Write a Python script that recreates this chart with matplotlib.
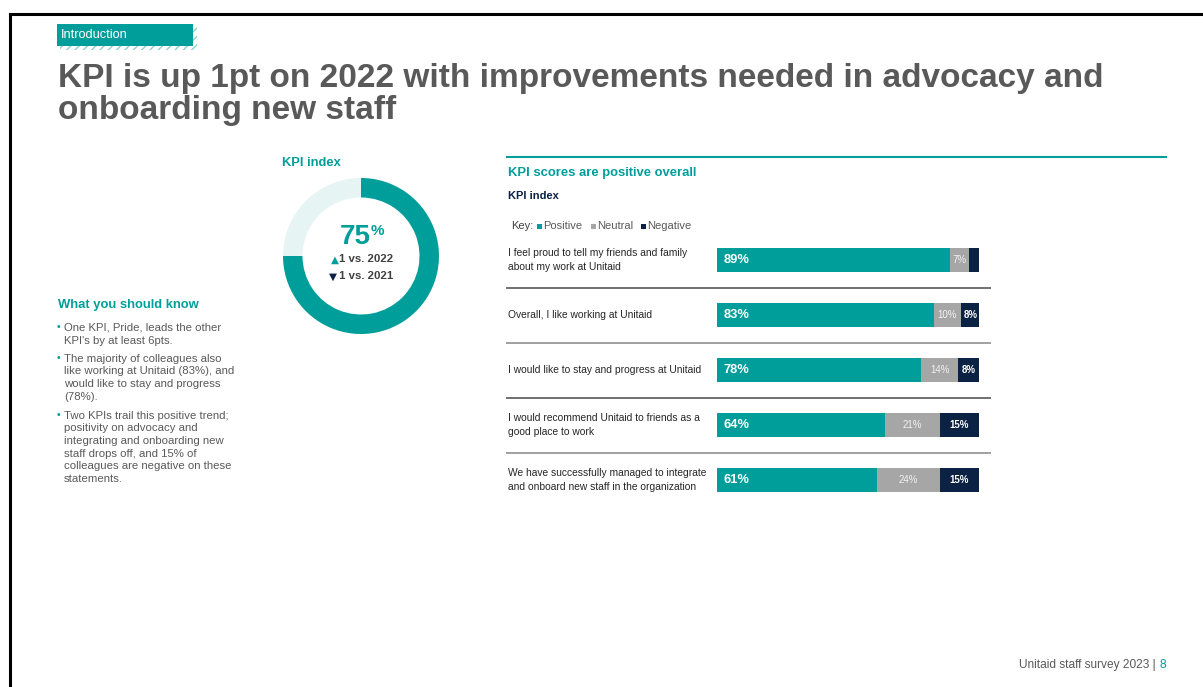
import matplotlib
matplotlib.use("Agg")
import matplotlib.pyplot as plt
from matplotlib.patches import Rectangle
from matplotlib.lines import Line2D
import matplotlib.transforms as mtrans

plt.rcParams['font.family'] = ['Liberation Sans', 'DejaVu Sans']

# ---------------- data ----------------
categories = [
    "I feel proud to tell my friends and family\nabout my work at Unitaid",
    "Overall, I like working at Unitaid",
    "I would like to stay and progress at Unitaid",
    "I would recommend Unitaid to friends as a\ngood place to work",
    "We have successfully managed to integrate\nand onboard new staff in the organization",
]
positive = [89, 83, 78, 64, 61]
neutral = [7, 10, 14, 21, 24]
negative = [4, 8, 8, 15, 15]
series_names = ["Positive", "Neutral", "Negative"]

kpi_index = [75, 25]
kpi_center = "75"
kpi_changes = ["1 vs. 2022", " 1 vs. 2021"]

bullets = [
    "One KPI, Pride, leads the other\nKPI's by at least 6pts.",
    "The majority of colleagues also\nlike working at Unitaid (83%), and\nwould like to stay and progress\n(78%).",
    "Two KPIs trail this positive trend;\npositivity on advocacy and\nintegrating and onboarding new\nstaff drops off, and 15% of\ncolleagues are negative on these\nstatements.",
]

TEAL = "#009E9A"
LTEAL = "#E6F4F4"
GREY = "#A6A6A6"
NAVY = "#0B2244"
DARK = "#595959"

W, H = 1203, 687
fig = plt.figure(figsize=(W / 100, H / 100), dpi=100)
fig.patch.set_facecolor("white")


def fx(x):
    return x / W


def fy(y):
    return 1 - y / H


def ftext(x, y, s, **kw):
    return fig.text(fx(x), fy(y), s, **kw)


# slide frame (top and left edges)
fig.add_artist(Line2D([fx(10), fx(1203)], [fy(14), fy(14)], color="black", lw=2.2))
fig.add_artist(Line2D([fx(10), fx(10)], [fy(14), fy(687)], color="black", lw=2.2))

# Introduction tag
fig.add_artist(Rectangle((fx(60), fy(50)), fx(137), 26 / H, facecolor="none",
                         edgecolor="#8FD0CE", hatch="////", lw=0))
fig.add_artist(Rectangle((fx(57), fy(46)), fx(136), 22 / H, facecolor=TEAL,
                         edgecolor="none"))
ftext(61, 35.5, "Introduction", color="white", fontsize=9.2, va="center", ha="left")

# Title
ftext(58, 87.5, "KPI is up 1pt on 2022 with improvements needed in advocacy and",
      fontsize=24, fontweight="bold", color=DARK, va="baseline")
ftext(58, 119, "onboarding new staff", fontsize=24, fontweight="bold", color=DARK,
      va="baseline")

# ---------------- donut ----------------
ftext(282, 163, "KPI index", color=TEAL, fontsize=9.3, fontweight="bold", va="center")
R = 78
axd = fig.add_axes([fx(361 - R), fy(256 + R), 2 * R / W, 2 * R / H])
axd.pie(kpi_index, colors=[TEAL, LTEAL], startangle=90, counterclock=False,
        radius=1, wedgeprops=dict(width=0.25, edgecolor="none"))
axd.set_xlim(-1, 1)
axd.set_ylim(-1, 1)
axd.set_aspect("equal")
axd.axis("off")
ftext(355, 237, kpi_center, color=TEAL, fontsize=20, fontweight="bold",
      ha="center", va="center")
ftext(371, 231, "%", color=TEAL, fontsize=11, fontweight="bold", ha="left", va="center")
ftext(331, 259.5, "\u25B2", color=TEAL, fontsize=7.5, ha="left", va="center",
      family=["DejaVu Sans"])
ftext(339, 259.5, kpi_changes[0], color="#404040", fontsize=8.2, fontweight="bold",
      ha="left", va="center")
ftext(329, 276.5, "\u25BC", color=NAVY, fontsize=7.5, ha="left", va="center",
      family=["DejaVu Sans"])
ftext(336, 276.5, kpi_changes[1], color="#404040", fontsize=8.2, fontweight="bold",
      ha="left", va="center")

# ---------------- what you should know ----------------
ftext(58, 305, "What you should know", color=TEAL, fontsize=9.4, fontweight="bold",
      va="center")
by = [327.5, 358, 415]
for y0, b in zip(by, bullets):
    ftext(57, y0, "\u2022", color=TEAL, fontsize=7.5, va="center")
    fig.text(fx(64), fy(y0 - 4.5), b, color=DARK, fontsize=8.2, va="top", ha="left",
             linespacing=1.34)

# ---------------- bar chart ----------------
fig.add_artist(Line2D([fx(507), fx(1166)], [fy(157), fy(157)], color=TEAL, lw=1.5))
ftext(508, 173, "KPI scores are positive overall", color=TEAL, fontsize=9.4,
      fontweight="bold", va="center")
ftext(508, 196, "KPI index", color=NAVY, fontsize=8, fontweight="bold", va="center")

# key
ftext(511, 226, "Key:", color="#404040", fontsize=8, va="center")
key_x = [537, 591, 641]
for kx, name, c in zip(key_x, series_names, [TEAL, GREY, NAVY]):
    fig.add_artist(Rectangle((fx(kx), fy(228.5)), 5 / W, 5 / H, facecolor=c,
                             edgecolor="none"))
    ftext(kx + 6, 226, name, color=DARK, fontsize=8, va="center")

n = len(categories)
top, rowh = 232.5, 55
ax = fig.add_axes([fx(717), fy(top + rowh * n), 262 / W, rowh * n / H])
ax.set_xlim(0, 100)
ax.set_ylim(n - 0.5, -0.5)
ax.axis("off")
ys = list(range(n))
bh = 0.44
left_neu = positive
left_neg = [p + q for p, q in zip(positive, neutral)]
ax.barh(ys, positive, height=bh, color=TEAL)
ax.barh(ys, neutral, left=left_neu, height=bh, color=GREY)
ax.barh(ys, negative, left=left_neg, height=bh, color=NAVY)

for i in ys:
    ax.text(2.6, i, f"{positive[i]}%", color="white", fontsize=9.3, fontweight="bold",
            va="center", ha="left")
    if neutral[i] >= 5:
        ax.text(left_neu[i] + neutral[i] / 2, i, f"{neutral[i]}%", color="#F2F2F2",
                fontsize=7, va="center", ha="center")
    if negative[i] >= 5:
        ax.text(left_neg[i] + negative[i] / 2, i, f"{negative[i]}%", color="white",
                fontsize=7, fontweight="bold", va="center", ha="center")

blend = mtrans.blended_transform_factory(fig.transFigure, ax.transData)
for i in ys:
    ax.text(fx(508), i, categories[i], transform=blend, color="#262626", fontsize=7.4,
            va="center", ha="left", linespacing=1.45)
sep_colors = ["#707070", "#A0A0A0", "#707070", "#A0A0A0"]
for i in range(n - 1):
    ax.add_line(Line2D([fx(507), fx(990)], [i + 0.5, i + 0.5], transform=blend,
                       color=sep_colors[i], lw=1.4, clip_on=False))

# footer
ftext(1159, 665, "Unitaid staff survey 2023 | ", color=DARK, fontsize=8.6,
      ha="right", va="center")
ftext(1160, 665, "8", color=TEAL, fontsize=8.6, ha="left", va="center")

fig.savefig("out.png", dpi=100)
